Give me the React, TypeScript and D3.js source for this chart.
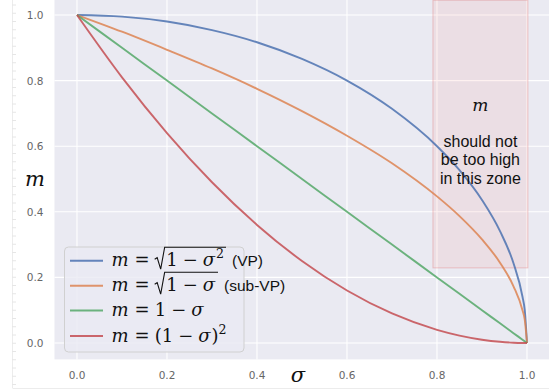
import React, { useEffect, useRef } from "react";
import * as d3 from "d3";

// sigma samples and the value read for each curve
const sigma = [0, 0.1, 0.2, 0.3, 0.4, 0.5, 0.6, 0.7, 0.8, 0.85, 0.9, 0.94, 0.97, 0.99, 0.995, 1.0];
const vpValues = [1, 0.995, 0.98, 0.954, 0.917, 0.866, 0.8, 0.714, 0.6, 0.527, 0.436, 0.341, 0.243, 0.141, 0.1, 0];
const subVpValues = [1, 0.949, 0.894, 0.837, 0.775, 0.707, 0.632, 0.548, 0.447, 0.387, 0.316, 0.245, 0.173, 0.1, 0.071, 0];
const linearValues = [1, 0.9, 0.8, 0.7, 0.6, 0.5, 0.4, 0.3, 0.2, 0.15, 0.1, 0.06, 0.03, 0.01, 0.005, 0];
const squaredValues = [1, 0.81, 0.64, 0.49, 0.36, 0.25, 0.16, 0.09, 0.04, 0.0225, 0.01, 0.0036, 0.0009, 0.0001, 0.00003, 0];

const seriesColors = ["#4C72B0", "#DD8452", "#55A868", "#C44E52"];
const xTicks = [0, 0.2, 0.4, 0.6, 0.8, 1.0];
const yTicks = [0, 0.2, 0.4, 0.6, 0.8, 1.0];
// the "m should not be too high" zone
const zoneX = [0.791, 1.002];
const zoneY = [0.229, 1.045];
const zoneText = ["should not", "be too high", "in this zone"];

const W = 549;
const H = 392;
const MATH = "'DejaVu Serif', serif";
const SANS = "'Liberation Sans', Arial, sans-serif";

type Tok = { t?: string; f?: string; sp?: number; sqrt?: Tok[] };

const labels: Tok[][] = [
  [{ t: "m", f: "it" }, { sp: 5 }, { t: "=", f: "rm" }, { sp: 5 },
    { sqrt: [{ t: "1", f: "rm" }, { sp: 5 }, { t: "−", f: "rm" }, { sp: 5 }, { t: "σ", f: "it" }, { t: "2", f: "sup" }] },
    { sp: 6 }, { t: "(VP)", f: "sans" }],
  [{ t: "m", f: "it" }, { sp: 5 }, { t: "=", f: "rm" }, { sp: 5 },
    { sqrt: [{ t: "1", f: "rm" }, { sp: 5 }, { t: "−", f: "rm" }, { sp: 5 }, { t: "σ", f: "it" }] },
    { sp: 6 }, { t: "(sub-VP)", f: "sans" }],
  [{ t: "m", f: "it" }, { sp: 5 }, { t: "=", f: "rm" }, { sp: 5 }, { t: "1", f: "rm" }, { sp: 5 },
    { t: "−", f: "rm" }, { sp: 5 }, { t: "σ", f: "it" }],
  [{ t: "m", f: "it" }, { sp: 5 }, { t: "=", f: "rm" }, { sp: 5 }, { t: "(1", f: "rm" }, { sp: 5 },
    { t: "−", f: "rm" }, { sp: 5 }, { t: "σ", f: "it" }, { t: ")", f: "rm" }, { t: "2", f: "sup" }],
];

const FS = 18;

function placeTokens(g: any, toks: Tok[], x: number, y: number): number {
  toks.forEach((tok) => {
    if (tok.sp) { x += tok.sp; return; }
    if (tok.sqrt) {
      const x0 = x;
      const rw = 10;
      const end = placeTokens(g, tok.sqrt, x + rw + 1.5, y);
      const top = y - 19;
      g.append("path")
        .attr("d", `M${x0},${y - 7} L${x0 + 2.5},${y - 8.5} L${x0 + 6},${y + 3} L${x0 + rw},${top} L${end + 2},${top}`)
        .attr("fill", "none").attr("stroke", "#111").attr("stroke-width", 1.1);
      x = end + 2;
      return;
    }
    const t = g.append("text").attr("x", x).attr("y", y).text(tok.t).attr("fill", "#111");
    if (tok.f === "it") t.attr("font-family", MATH).attr("font-style", "italic").attr("font-size", FS);
    else if (tok.f === "rm") t.attr("font-family", MATH).attr("font-size", FS);
    else if (tok.f === "sup") t.attr("font-family", MATH).attr("font-size", FS * 0.7).attr("y", y - 8);
    else t.attr("font-family", SANS).attr("font-size", 15.5);
    x += (t.node() as SVGTextElement).getComputedTextLength();
    if (tok.f === "it") x += 1;
  });
  return x;
}

export default function App() {
  const ref = useRef<SVGSVGElement>(null);

  useEffect(() => {
    const svg = d3.select(ref.current);
    svg.selectAll("*").remove();

    const x = d3.scaleLinear().domain([-0.05, 1.05]).range([54.5, 549.5]);
    const y = d3.scaleLinear().domain([-0.05, 1.05]).range([359.4, -1.4]);

    // faint ruler of the screenshot
    svg.append("line").attr("x1", 12.5).attr("x2", 12.5).attr("y1", 0).attr("y2", 388)
      .attr("stroke", "#ececec");
    svg.append("line").attr("x1", 12.5).attr("x2", W).attr("y1", 388.5).attr("y2", 388.5)
      .attr("stroke", "#ececec");
    svg.selectAll(".rt").data(d3.range(0, 47)).enter().append("line")
      .attr("x1", 12).attr("x2", 16)
      .attr("y1", (d) => 5 + d * 8.25).attr("y2", (d) => 5 + d * 8.25)
      .attr("stroke", "#e6e6e6");

    // plot background
    svg.append("rect").attr("x", x(-0.05)).attr("y", y(1.05))
      .attr("width", x(1.05) - x(-0.05)).attr("height", y(-0.05) - y(1.05))
      .attr("fill", "#EAEAF2");

    // grid
    svg.selectAll(".gx").data(xTicks).enter().append("line")
      .attr("x1", (d) => x(d)).attr("x2", (d) => x(d))
      .attr("y1", y(1.05)).attr("y2", y(-0.05))
      .attr("stroke", "#fff").attr("stroke-width", 1.1);
    svg.selectAll(".gy").data(yTicks).enter().append("line")
      .attr("y1", (d) => y(d)).attr("y2", (d) => y(d))
      .attr("x1", x(-0.05)).attr("x2", x(1.05))
      .attr("stroke", "#fff").attr("stroke-width", 1.1);

    // tick labels
    svg.selectAll(".tx").data(xTicks).enter().append("text")
      .attr("x", (d) => x(d)).attr("y", 375)
      .attr("text-anchor", "middle").attr("dominant-baseline", "central")
      .attr("font-family", "'DejaVu Sans', sans-serif").attr("font-size", 10.5)
      .attr("fill", "#666").text((d) => d3.format(".1f")(d));
    svg.selectAll(".ty").data(yTicks).enter().append("text")
      .attr("x", 43.5).attr("y", (d) => y(d))
      .attr("text-anchor", "end").attr("dominant-baseline", "central")
      .attr("font-family", "'DejaVu Sans', sans-serif").attr("font-size", 10.5)
      .attr("fill", "#666").text((d) => d3.format(".1f")(d));

    // axis labels
    svg.append("text").attr("x", 35).attr("y", 179).attr("text-anchor", "middle")
      .attr("dominant-baseline", "central").attr("font-family", MATH)
      .attr("font-style", "italic").attr("font-size", 21).attr("fill", "#111").text("m");
    svg.append("text").attr("x", 298).attr("y", 375).attr("text-anchor", "middle")
      .attr("dominant-baseline", "central").attr("font-family", MATH)
      .attr("font-style", "italic").attr("font-size", 21).attr("fill", "#111").text("σ");

    // zone
    svg.append("rect").attr("x", x(zoneX[0])).attr("y", y(zoneY[1]))
      .attr("width", x(zoneX[1]) - x(zoneX[0])).attr("height", y(zoneY[0]) - y(zoneY[1]))
      .attr("fill", "#FA8072").attr("fill-opacity", 0.11)
      .attr("stroke", "#e07070").attr("stroke-opacity", 0.35).attr("stroke-width", 1);

    // curves
    const all = [vpValues, subVpValues, linearValues, squaredValues];
    const line = d3.line<number>()
      .x((_, i) => x(sigma[i]))
      .y((d) => y(d))
      .curve(d3.curveMonotoneX);
    all.forEach((vals, k) => {
      svg.append("path").attr("d", line(vals))
        .attr("fill", "none").attr("stroke", seriesColors[k])
        .attr("stroke-opacity", 0.85).attr("stroke-width", 1.9);
    });

    // zone annotation
    const zx = (x(zoneX[0]) + x(zoneX[1])) / 2;
    svg.append("text").attr("x", zx).attr("y", 111).attr("text-anchor", "middle")
      .attr("font-family", MATH).attr("font-style", "italic").attr("font-size", 17)
      .attr("fill", "#111").text("m");
    zoneText.forEach((s, i) => {
      svg.append("text").attr("x", zx).attr("y", 146.5 + i * 18.5).attr("text-anchor", "middle")
        .attr("font-family", SANS).attr("font-size", 16).attr("fill", "#111").text(s);
    });

    // legend
    const lg = svg.append("g");
    lg.append("rect").attr("x", 64.5).attr("y", 247).attr("width", 179.5).attr("height", 105)
      .attr("rx", 4).attr("fill", "#EAEAF2").attr("fill-opacity", 0.8)
      .attr("stroke", "#d0d0d0").attr("stroke-width", 1);
    const rowY = [260.7, 285.7, 310.5, 336];
    labels.forEach((toks, k) => {
      lg.append("line").attr("x1", 70).attr("x2", 103).attr("y1", rowY[k]).attr("y2", rowY[k])
        .attr("stroke", seriesColors[k]).attr("stroke-opacity", 0.85).attr("stroke-width", 1.9);
      placeTokens(lg, toks, 111.5, rowY[k] + 5.5);
    });
  }, []);

  return (
    <svg ref={ref} width={W} height={H}
      style={{ position: "absolute", left: 0, top: 0, background: "#fff" }} />
  );
}
